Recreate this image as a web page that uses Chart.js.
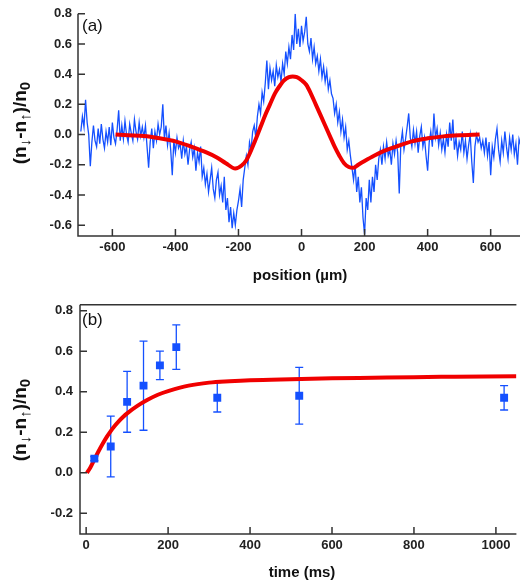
<!DOCTYPE html>
<html>
<head>
<meta charset="utf-8">
<script src="https://cdn.jsdelivr.net/npm/chart.js@4.4.0/dist/chart.umd.min.js"></script>
<style>
html, body { margin: 0; padding: 0; background: #fff; }
#wrap { position: relative; width: 522px; height: 581px; }
canvas { position: absolute; left: 0; }
#panelA { top: 0; }
#panelB { top: 290px; }
</style>
</head>
<body>
<div id="wrap">
  <canvas id="panelA" width="522" height="290"></canvas>
  <canvas id="panelB" width="522" height="291"></canvas>
</div>
<script>
// ---- panel (a): spin profile vs position ----
const posStart = -700;
const posStep = 5;
const spinDiff = [
    0.02, 0.12, 0.05, 0.23, 0.08, 0.0, -0.21, -0.05, 0.06, -0.04,
    -0.08, 0.04, -0.06, 0.07, -0.03, -0.09, 0.02, -0.05, 0.05, -0.07,
    0.08, -0.02, -0.06, 0.03, 0.16, -0.04, 0.06, -0.03, 0.09, 0.0,
    -0.05, 0.07, 0.01, -0.04, 0.1, 0.02, -0.03, 0.08, -0.01, 0.05,
    -0.02, 0.06, -0.08, -0.22, -0.05, 0.04, -0.09, 0.02, -0.04, 0.07,
    0.0, 0.05, 0.2, -0.03, 0.06, -0.07, 0.01, -0.1, -0.27, -0.04,
    -0.12, -0.02, -0.09, -0.06, -0.16, -0.04, -0.13, -0.08, -0.2, -0.1,
    -0.05, -0.15, -0.09, -0.24, -0.12, -0.18, -0.08, -0.28, -0.22, -0.33,
    -0.26, -0.38, -0.3, -0.22, -0.36, -0.42, -0.3, -0.25, -0.4, -0.34,
    -0.45, -0.28, -0.5, -0.42, -0.58, -0.48, -0.62, -0.52, -0.6, -0.5,
    -0.44, -0.36, -0.48, -0.3, -0.22, -0.14, -0.2, -0.05, -0.1, 0.02,
    0.06, -0.02, 0.12, 0.2, 0.14, 0.28, 0.22, 0.34, 0.49, 0.3,
    0.44, 0.36, 0.42, 0.32, 0.46, 0.38, 0.43, 0.35, 0.47, 0.4,
    0.55, 0.47, 0.58, 0.5, 0.66, 0.56, 0.8, 0.6, 0.7, 0.58,
    0.72, 0.62, 0.68, 0.78, 0.6, 0.55, 0.64, 0.5, 0.58, 0.47,
    0.52, 0.42, 0.5, 0.38, 0.45, 0.35, 0.42, 0.3, 0.36, 0.27,
    0.24, 0.14, 0.2, 0.08, 0.15, 0.02, 0.1, -0.02, 0.05, -0.1,
    -0.04, -0.14, -0.22, -0.3, -0.2, -0.38, -0.28, -0.45, -0.35, -0.55,
    -0.66, -0.42, -0.5, -0.3, -0.45, -0.28, -0.38, -0.2, -0.3, -0.16,
    -0.1, -0.2, -0.08, -0.16, -0.05, -0.14, -0.1, -0.2, -0.06, -0.13,
    -0.04, -0.12, -0.39, -0.06, 0.02, -0.1, -0.03, 0.05, 0.14, -0.02,
    -0.08, 0.03, -0.06, 0.02, -0.12, -0.01, 0.05, -0.08, -0.02, -0.14,
    -0.24, -0.05, 0.02, -0.08, 0.14, -0.02, 0.04, -0.07, 0.01, -0.1,
    -0.03, -0.12, 0.0, -0.08, 0.08, -0.04, 0.1, -0.1, -0.02, -0.14,
    -0.05, -0.1, 0.02, -0.12, -0.04, -0.16, -0.07, 0.0, -0.18, -0.32,
    -0.08, 0.0, -0.05, -0.02, -0.09, -0.04, -0.12, -0.02, -0.14, -0.05,
    -0.27, -0.08, -0.15, -0.03, 0.04, -0.1, -0.18, -0.04, -0.12, 0.02,
    -0.08, -0.16, -0.02, -0.1, 0.0, -0.13, -0.06, -0.2, -0.03, -0.07
];
const fitPos = [-590, -550, -500, -450, -400, -350, -300, -270, -240, -210, -190, -175, -160, -145,
    -130, -115, -100, -85, -70, -55, -40, -28, -15, 0, 15, 30, 45, 60, 75, 90, 105, 120, 135,
    150, 165, 180, 200, 230, 260, 300, 350, 400, 450, 500, 565];
const fitDiff = [0.0, -0.005, -0.01, -0.025, -0.045, -0.08, -0.12, -0.15, -0.19, -0.225, -0.205, -0.17, -0.105, -0.03,
    0.05, 0.13, 0.2, 0.27, 0.32, 0.36, 0.38, 0.385, 0.38, 0.36, 0.33, 0.27, 0.2, 0.13, 0.06, -0.01, -0.08, -0.14, -0.19,
    -0.215, -0.22, -0.2, -0.175, -0.14, -0.11, -0.08, -0.045, -0.025, -0.012, -0.005, 0.0];
const posTicks = [-600, -400, -200, 0, 200, 400, 600];
const diffTicksA = [-0.6, -0.4, -0.2, 0, 0.2, 0.4, 0.6, 0.8];

// ---- panel (b): polarization vs time ----
const timeMs = [20, 60, 100, 140, 180, 220, 320, 520, 1020];
const polValues = [0.07, 0.13, 0.35, 0.43, 0.53, 0.62, 0.37, 0.38, 0.37];
const errLow = [0.06, -0.02, 0.20, 0.21, 0.46, 0.51, 0.30, 0.24, 0.31];
const errHigh = [0.08, 0.28, 0.50, 0.65, 0.60, 0.73, 0.445, 0.52, 0.43];
const fitTime = [2, 10, 20, 30, 40, 50, 60, 70, 80, 90, 100, 125, 150, 175, 200, 250, 300, 350, 400, 500, 600, 700, 800, 900, 1050];
const fitPol = [0.0, 0.025, 0.065, 0.105, 0.142, 0.176, 0.206, 0.232, 0.255, 0.275, 0.293, 0.33, 0.36, 0.385, 0.403, 0.43, 0.445, 0.452, 0.457, 0.462, 0.466, 0.469, 0.472, 0.474, 0.477];
const timeTicks = [0, 200, 400, 600, 800, 1000];
const diffTicksB = [-0.2, 0, 0.2, 0.4, 0.6, 0.8];

const BLUE = '#1450ff';
const RED = '#f00000';
const FONT = '"Liberation Sans", Arial, sans-serif';

function drawYTitle(ctx, cx, cy) {
    const parts = [['(n', 0], ['\u2193', 1], ['-n', 0], ['\u2191', 1], [')/n', 0], ['0', 1]];
    const big = 'bold 19px ' + FONT, small = 'bold 15px ' + FONT;
    ctx.save();
    ctx.translate(cx, cy);
    ctx.rotate(-Math.PI / 2);
    ctx.fillStyle = '#111';
    ctx.textBaseline = 'alphabetic';
    ctx.textAlign = 'left';
    let total = 0;
    parts.forEach(p => { ctx.font = p[1] ? small : big; total += ctx.measureText(p[0]).width; });
    let x = -total / 2;
    parts.forEach(p => {
        ctx.font = p[1] ? small : big;
        ctx.fillText(p[0], x, p[1] ? 10 : 6);
        x += ctx.measureText(p[0]).width;
    });
    ctx.restore();
}

function framePlugin(o) {
    return {
        id: 'frame',
        beforeDatasetsDraw(chart) {
            if (!o.errors) return;
            const { ctx, scales: { x, y } } = chart;
            ctx.save();
            ctx.strokeStyle = BLUE;
            ctx.lineWidth = 1.3;
            ctx.beginPath();
            timeMs.forEach((t, i) => {
                const px = x.getPixelForValue(t);
                const lo = y.getPixelForValue(errLow[i]);
                const hi = y.getPixelForValue(errHigh[i]);
                ctx.moveTo(px, lo); ctx.lineTo(px, hi);
                ctx.moveTo(px - 4, lo); ctx.lineTo(px + 4, lo);
                ctx.moveTo(px - 4, hi); ctx.lineTo(px + 4, hi);
            });
            ctx.stroke();
            ctx.restore();
        },
        afterDraw(chart) {
            const { ctx, chartArea: a, scales: { x, y } } = chart;
            ctx.save();
            ctx.strokeStyle = '#333';
            ctx.lineWidth = 1.5;
            ctx.beginPath();
            ctx.moveTo(a.left, a.top); ctx.lineTo(a.left, a.bottom); ctx.lineTo(a.right, a.bottom);
            if (o.topLine) { ctx.moveTo(a.left, a.top); ctx.lineTo(a.right, a.top); }
            o.xTicks.forEach(v => {
                const px = x.getPixelForValue(v);
                ctx.moveTo(px, a.bottom); ctx.lineTo(px, a.bottom - o.tick);
            });
            o.yTicks.forEach(v => {
                const py = y.getPixelForValue(v);
                ctx.moveTo(a.left, py); ctx.lineTo(a.left + o.tick, py);
            });
            ctx.stroke();

            ctx.fillStyle = '#111';
            ctx.font = '17px ' + FONT;
            ctx.textAlign = 'left';
            ctx.textBaseline = 'alphabetic';
            ctx.fillText(o.label, 82, o.labelY);

            ctx.font = 'bold 15px ' + FONT;
            ctx.textAlign = 'center';
            ctx.fillText(o.xTitle, o.xTitleX, o.xTitleY);
            ctx.restore();
            drawYTitle(ctx, 20, o.yTitleY);
        }
    };
}

function axisOpts(min, max, tickList, isY, size, pad) {
    return {
        type: 'linear',
        min: min,
        max: max,
        grid: { display: false, drawTicks: false },
        border: { display: false },
        afterBuildTicks: s => { s.ticks = tickList.map(v => ({ value: v })); },
        afterFit: s => { if (isY) s.width = size; else s.height = size; },
        ticks: {
            autoSkip: false,
            padding: pad,
            color: '#222',
            font: { family: FONT, size: 13, weight: 'bold' },
            callback: v => isY ? v.toFixed(1) : String(v)
        }
    };
}

new Chart(document.getElementById('panelA'), {
    type: 'line',
    data: {
        datasets: [
            {
                data: fitPos.map((p, i) => ({ x: p, y: fitDiff[i] })),
                borderColor: RED, borderWidth: 4, pointRadius: 0,
                cubicInterpolationMode: 'monotone', order: 0
            },
            {
                data: spinDiff.map((v, i) => ({ x: posStart + i * posStep, y: v })),
                borderColor: BLUE, borderWidth: 1.3, pointRadius: 0, tension: 0, order: 1
            }
        ]
    },
    options: {
        responsive: false,
        animation: false,
        layout: { padding: { top: 13, right: 2, left: 0, bottom: 0 } },
        plugins: { legend: { display: false }, tooltip: { enabled: false } },
        scales: {
            x: axisOpts(-709, 693, posTicks, false, 54, 4),
            y: axisOpts(-0.672, 0.8, diffTicksA, true, 78, 6)
        }
    },
    plugins: [framePlugin({
        xTicks: posTicks, yTicks: diffTicksA, tick: 7, topLine: false,
        label: '(a)', labelY: 31, xTitle: 'position (\u00b5m)', xTitleX: 300, xTitleY: 280, yTitleY: 123
    })]
});

new Chart(document.getElementById('panelB'), {
    type: 'scatter',
    data: {
        datasets: [
            {
                data: timeMs.map((t, i) => ({ x: t, y: polValues[i] })),
                backgroundColor: BLUE, borderColor: BLUE, borderWidth: 0,
                pointStyle: 'rect', pointRadius: 5.6, order: 0
            },
            {
                data: fitTime.map((t, i) => ({ x: t, y: fitPol[i] })),
                showLine: true, borderColor: RED, borderWidth: 4, pointRadius: 0,
                cubicInterpolationMode: 'monotone', order: 1
            }
        ]
    },
    options: {
        responsive: false,
        animation: false,
        layout: { padding: { top: 12, right: 1, left: 0, bottom: 0 } },
        plugins: { legend: { display: false }, tooltip: { enabled: false } },
        scales: {
            x: axisOpts(-15, 1050, timeTicks, false, 47, 4),
            y: axisOpts(-0.302, 0.829, diffTicksB, true, 80, 7)
        }
    },
    plugins: [framePlugin({
        xTicks: timeTicks, yTicks: diffTicksB, tick: 7, topLine: true, errors: true,
        label: '(b)', labelY: 35, xTitle: 'time (ms)', xTitleX: 302, xTitleY: 287, yTitleY: 130
    })]
});
</script>
</body>
</html>
